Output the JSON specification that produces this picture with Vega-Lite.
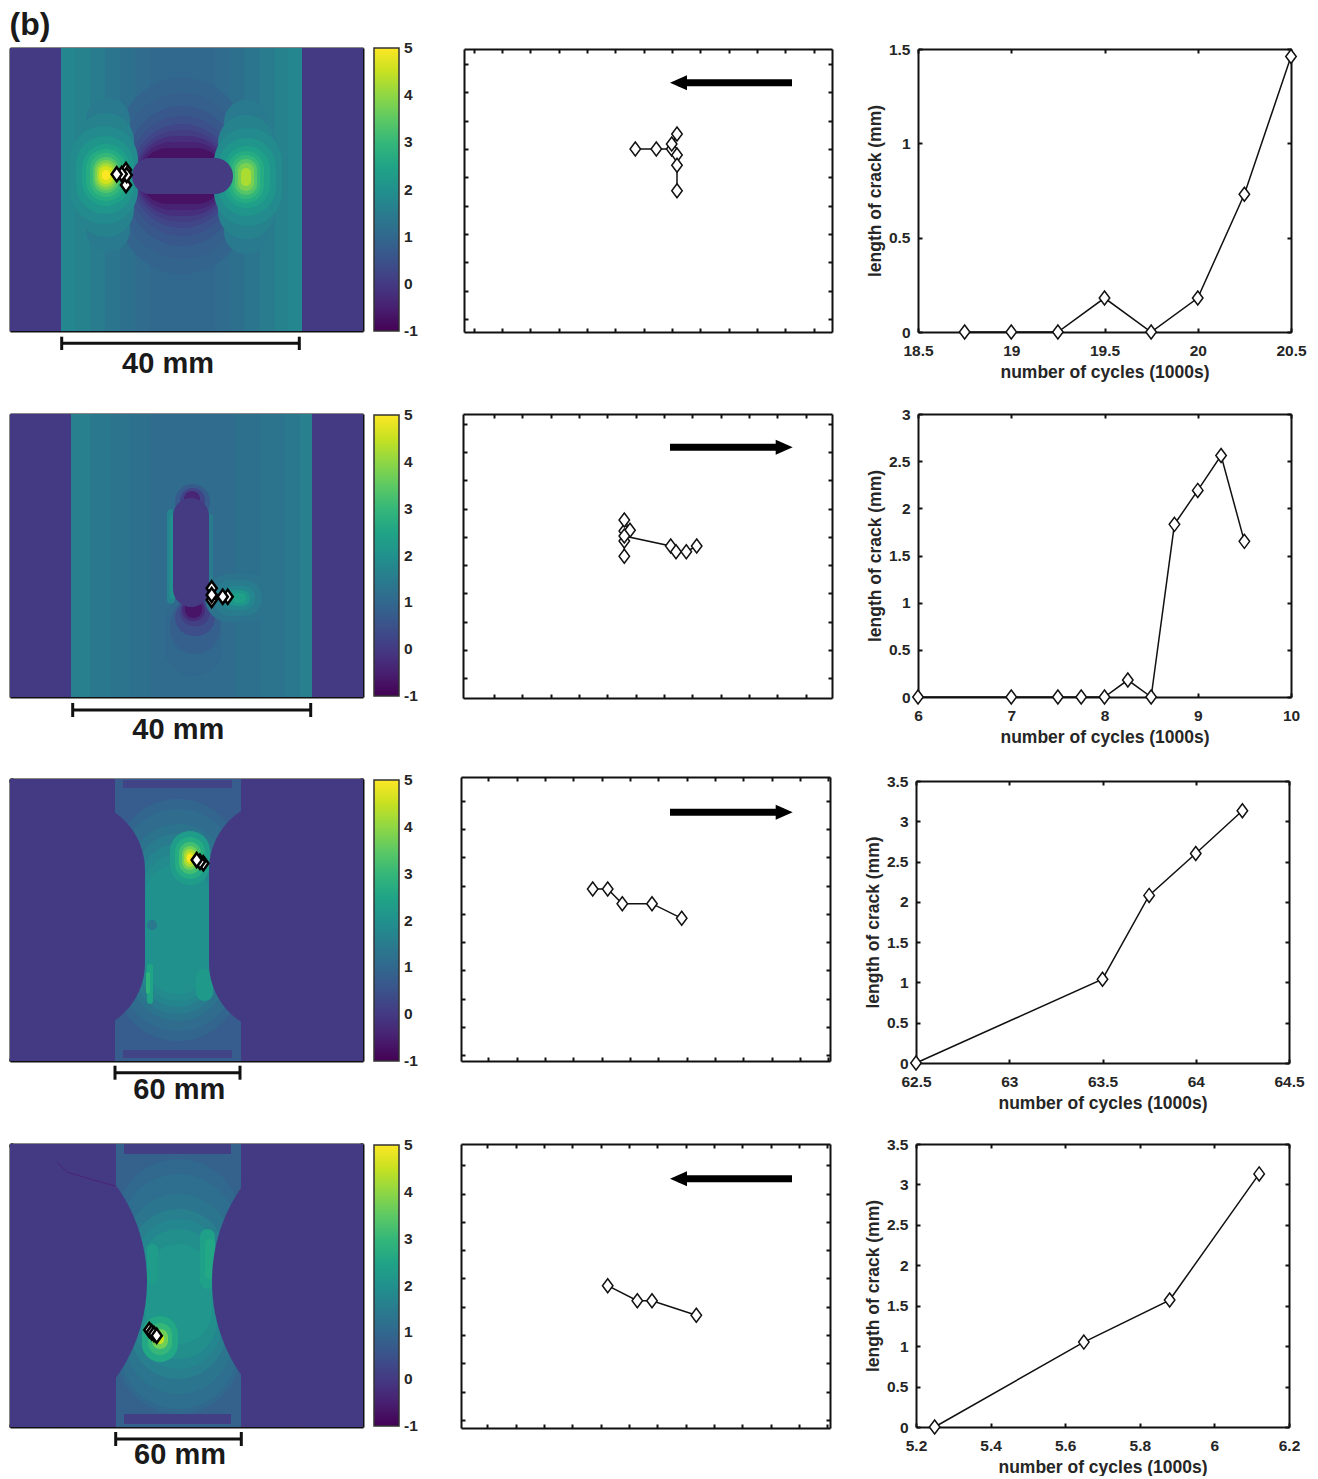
{"$schema":"https://vega.github.io/schema/vega-lite/v6.json","background":"white","padding":{"left":9,"top":9,"right":4,"bottom":0},"columns":5,"align":"none","bounds":"flush","spacing":{"row":79,"column":0},"resolve":{"scale":{"color":"independent"},"legend":{"color":"independent"}},
"config":{"view":{"stroke":null},"axis":{"domainColor":"#111","domainWidth":2,"tickColor":"#111","tickWidth":2,"tickSize":-4,"grid":false,"labels":false,"labelFlush":false,"labelOverlap":false,"zindex":1,"labelFont":"Liberation Sans","labelFontWeight":"bold","labelFontSize":15.5,"labelColor":"#262626","titleFont":"Liberation Sans","titleFontWeight":"bold","titleFontSize":17.5,"titleColor":"#262626"},"legend":{"labelFont":"Liberation Sans","labelFontWeight":"bold","labelFontSize":15.5,"labelColor":"#262626","labelBaseline":"middle","labelOverlap":false}},
"datasets":{
"h1a":[{"x":0,"x2":353,"y":0,"y2":283,"v":0},{"x":51,"x2":65,"y":0,"y2":283,"v":1.75},{"x":65,"x2":80,"y":0,"y2":283,"v":1.65},{"x":80,"x2":95,"y":0,"y2":283,"v":1.5},{"x":95,"x2":110,"y":0,"y2":283,"v":1.35},{"x":110,"x2":125,"y":0,"y2":283,"v":1.2},{"x":125,"x2":140,"y":0,"y2":283,"v":1.1},{"x":140,"x2":205,"y":0,"y2":283,"v":1.0},{"x":205,"x2":220,"y":0,"y2":283,"v":1.1},{"x":220,"x2":235,"y":0,"y2":283,"v":1.2},{"x":235,"x2":250,"y":0,"y2":283,"v":1.35},{"x":250,"x2":265,"y":0,"y2":283,"v":1.5},{"x":265,"x2":278,"y":0,"y2":283,"v":1.65},{"x":278,"x2":292,"y":0,"y2":283,"v":1.75}],
"h1b":[{"x":108,"x2":236,"y":30,"y2":226,"v":0.9},{"x":114,"x2":230,"y":45,"y2":211,"v":0.8},{"x":118,"x2":226,"y":58,"y2":198,"v":0.65},{"x":120,"x2":224,"y":68,"y2":188,"v":0.45},{"x":122,"x2":222,"y":76,"y2":180,"v":0.25},{"x":124,"x2":220,"y":82,"y2":174,"v":0.05},{"x":126,"x2":218,"y":88,"y2":168,"v":-0.2},{"x":128,"x2":216,"y":94,"y2":162,"v":-0.45},{"x":130,"x2":214,"y":100,"y2":156,"v":-0.75},{"x":76,"x2":120,"y":50,"y2":204,"v":1.45},{"x":68,"x2":124,"y":65,"y2":189,"v":1.65},{"x":60,"x2":128,"y":78,"y2":176,"v":1.85},{"x":66,"x2":124,"y":88,"y2":166,"v":2.1},{"x":72,"x2":120,"y":96,"y2":158,"v":2.4},{"x":76,"x2":116,"y":101,"y2":153,"v":2.7},{"x":80,"x2":112,"y":105,"y2":149,"v":3.0},{"x":83,"x2":109,"y":109,"y2":145,"v":3.4},{"x":85,"x2":107,"y":112,"y2":142,"v":3.8},{"x":87,"x2":105,"y":115,"y2":139,"v":4.2},{"x":89,"x2":103,"y":118,"y2":136,"v":4.6},{"x":92,"x2":100,"y":122,"y2":132,"v":5},{"x":214,"x2":258,"y":52,"y2":206,"v":1.45},{"x":208,"x2":264,"y":67,"y2":191,"v":1.65},{"x":204,"x2":272,"y":80,"y2":178,"v":1.85},{"x":208,"x2":266,"y":90,"y2":168,"v":2.1},{"x":214,"x2":260,"y":98,"y2":160,"v":2.4},{"x":218,"x2":254,"y":103,"y2":155,"v":2.7},{"x":222,"x2":250,"y":107,"y2":151,"v":3.0},{"x":225,"x2":247,"y":111,"y2":147,"v":3.4},{"x":228,"x2":244,"y":115,"y2":143,"v":3.8},{"x":231,"x2":241,"y":120,"y2":138,"v":4.25}],
"h1c":[{"x":122,"x2":223,"y":110,"y2":146,"v":0.02}],
"h1m":[{"x":116,"y":137},{"x":116,"y":122},{"x":116.7,"y":127},{"x":111.7,"y":126},{"x":106.7,"y":126.3}],
"h1s":[{"x":51.7,"x2":289.3,"y":295.3,"y2":295.3},{"x":51.7,"x2":51.7,"y":288.7,"y2":302},{"x":289.3,"x2":289.3,"y":288.7,"y2":302}],
"h1t":[{"x":158,"y":316,"t":"40 mm"}],
"h1u":[{"x":20,"y":-23,"t":"(b)"}],
"h2a":[{"x":0,"x2":353,"y":0,"y2":283,"v":0},{"x":61,"x2":80,"y":0,"y2":283,"v":1.55},{"x":80,"x2":100,"y":0,"y2":283,"v":1.4},{"x":100,"x2":120,"y":0,"y2":283,"v":1.3},{"x":120,"x2":140,"y":0,"y2":283,"v":1.2},{"x":140,"x2":225,"y":0,"y2":283,"v":1.1},{"x":225,"x2":250,"y":0,"y2":283,"v":1.2},{"x":250,"x2":275,"y":0,"y2":283,"v":1.3},{"x":275,"x2":290,"y":0,"y2":283,"v":1.4},{"x":290,"x2":302,"y":0,"y2":283,"v":1.55}],
"h2b":[{"x":155,"x2":212,"y":180,"y2":262,"v":1.0},{"x":160,"x2":210,"y":185,"y2":240,"v":0.8},{"x":165,"x2":205,"y":185,"y2":222,"v":0.4},{"x":170,"x2":200,"y":185,"y2":212,"v":0.1},{"x":172,"x2":195,"y":185,"y2":207,"v":-0.3},{"x":175,"x2":192,"y":185,"y2":204,"v":-0.7},{"x":165,"x2":200,"y":70,"y2":105,"v":0.7},{"x":170,"x2":195,"y":74,"y2":100,"v":0.2},{"x":174,"x2":190,"y":77,"y2":95,"v":-0.4},{"x":157,"x2":165,"y":95,"y2":190,"v":1.7},{"x":160,"x2":165,"y":100,"y2":185,"v":2.0},{"x":197,"x2":203,"y":100,"y2":170,"v":1.5},{"x":195,"x2":262,"y":160,"y2":208,"v":1.3},{"x":203,"x2":252,"y":166,"y2":202,"v":1.5},{"x":210,"x2":245,"y":172,"y2":196,"v":1.75},{"x":217,"x2":240,"y":176,"y2":192,"v":2.1},{"x":222,"x2":236,"y":179,"y2":189,"v":2.4}],
"h2c":[{"x":163,"x2":199,"y":84,"y2":193,"v":0.02}],
"h2m":[{"x":201.7,"y":174.3},{"x":201.7,"y":186},{"x":201.7,"y":181},{"x":217.7,"y":182.7},{"x":212.7,"y":182.7}],
"h2s":[{"x":62.7,"x2":300.7,"y":296,"y2":296},{"x":62.7,"x2":62.7,"y":289,"y2":303},{"x":300.7,"x2":300.7,"y":289,"y2":303}],
"h2t":[{"x":168.3,"y":316,"t":"40 mm"}],
"h3a":[{"x":0,"x2":353,"y":0,"y2":282,"v":0},{"x":105,"x2":231,"y":0,"y2":282,"v":0.75},{"x":113,"x2":222,"y":1,"y2":9,"v":0.2},{"x":113,"x2":222,"y":271,"y2":279,"v":0.2}],
"h3b":[{"x":105,"x2":231,"y":20,"y2":262,"v":0.95},{"x":110,"x2":226,"y":30,"y2":252,"v":1.1},{"x":120,"x2":216,"y":45,"y2":242,"v":1.3},{"x":125,"x2":210,"y":55,"y2":235,"v":1.5},{"x":130,"x2":205,"y":65,"y2":228,"v":1.7},{"x":133,"x2":203,"y":75,"y2":222,"v":1.85},{"x":135,"x2":200,"y":85,"y2":215,"v":2.0},{"x":137,"x2":143,"y":185,"y2":225,"v":2.5},{"x":136,"x2":140,"y":193,"y2":215,"v":2.9},{"x":186,"x2":203,"y":190,"y2":222,"v":2.25},{"x":137,"x2":147,"y":141,"y2":151,"v":1.4},{"x":160,"x2":200,"y":52,"y2":106,"v":2.3},{"x":165,"x2":195,"y":58,"y2":100,"v":2.7},{"x":169,"x2":191,"y":63,"y2":95,"v":3.2},{"x":172,"x2":188,"y":67,"y2":91,"v":3.7},{"x":174,"x2":186,"y":70,"y2":88,"v":4.2},{"x":176,"x2":184,"y":73,"y2":85,"v":4.6},{"x":177,"x2":183,"y":75,"y2":83,"v":5}],
"h3c":[{"x":-100,"x2":135,"y":21,"y2":254,"v":0},{"x":199,"x2":460,"y":21,"y2":254,"v":0}],
"h3m":[{"x":193.3,"y":84.3},{"x":190,"y":82.7},{"x":186.7,"y":81}],
"h3s":[{"x":105,"x2":230,"y":293.7,"y2":293.7},{"x":105,"x2":105,"y":286.7,"y2":300.7},{"x":230,"x2":230,"y":286.7,"y2":300.7}],
"h3t":[{"x":169.3,"y":311,"t":"60 mm"}],
"h4a":[{"x":0,"x2":353,"y":0,"y2":283,"v":0},{"x":106,"x2":231,"y":0,"y2":283,"v":0.85},{"x":114,"x2":221,"y":0,"y2":10,"v":0.1},{"x":114,"x2":221,"y":270,"y2":280,"v":0.1}],
"h4b":[{"x":106,"x2":231,"y":15,"y2":270,"v":1.0},{"x":110,"x2":227,"y":30,"y2":265,"v":1.15},{"x":115,"x2":222,"y":50,"y2":250,"v":1.35},{"x":120,"x2":216,"y":65,"y2":235,"v":1.55},{"x":125,"x2":212,"y":75,"y2":225,"v":1.75},{"x":130,"x2":207,"y":85,"y2":215,"v":1.95},{"x":135,"x2":202,"y":100,"y2":200,"v":2.15},{"x":190,"x2":205,"y":85,"y2":145,"v":2.4},{"x":195,"x2":205,"y":95,"y2":135,"v":2.6},{"x":137,"x2":148,"y":100,"y2":140,"v":2.3},{"x":132,"x2":168,"y":172,"y2":218,"v":2.6},{"x":138,"x2":162,"y":179,"y2":211,"v":3},{"x":142,"x2":158,"y":185,"y2":205,"v":3.7},{"x":146,"x2":154,"y":190,"y2":200,"v":4.5}],
"h4c":[{"x":-193,"x2":137,"y":-27.5,"y2":302.5,"v":0},{"x":202,"x2":532,"y":-27.5,"y2":302.5,"v":0}],
"h4m":[{"x":139.3,"y":186},{"x":141.7,"y":188.3},{"x":144,"y":190},{"x":146.7,"y":191.7}],
"h4s":[{"x":105.7,"x2":231.3,"y":295,"y2":295},{"x":105.7,"x2":105.7,"y":288,"y2":302},{"x":231.3,"x2":231.3,"y":288,"y2":302}],
"h4t":[{"x":170,"y":311,"t":"60 mm"}],
"h4l":[{"i":1,"x":47,"y":18},{"i":2,"x":57,"y":28},{"i":3,"x":80,"y":35},{"i":4,"x":105,"y":42}],
"m1":[{"i":1,"x":171.3,"y":100},{"i":2,"x":192.3,"y":100},{"i":3,"x":207.7,"y":100},{"i":4,"x":213,"y":85},{"i":5,"x":207.7,"y":95},{"i":6,"x":213,"y":106},{"i":7,"x":213,"y":116.3},{"i":8,"x":213,"y":141.7}],
"m2":[{"i":1,"x":161.3,"y":142.3},{"i":2,"x":161.3,"y":127},{"i":3,"x":161.3,"y":117},{"i":4,"x":161.3,"y":106},{"i":5,"x":167,"y":116.3},{"i":6,"x":161.3,"y":122},{"i":7,"x":207.7,"y":132},{"i":8,"x":213,"y":137.7},{"i":9,"x":223.3,"y":137.7},{"i":10,"x":233.7,"y":132}],
"m3":[{"i":1,"x":131.7,"y":112},{"i":2,"x":146.7,"y":112},{"i":3,"x":161.3,"y":126.7},{"i":4,"x":191,"y":126.7},{"i":5,"x":220.7,"y":141.3}],
"m4":[{"i":1,"x":146.7,"y":141.7},{"i":2,"x":176.3,"y":156.7},{"i":3,"x":191,"y":156.7},{"i":4,"x":235.3,"y":171.3}],
"a1":[{"x":214,"x2":328,"y":33.7}],"a1h":[{"x":214.5,"y":33.7}],
"a2":[{"x":207,"x2":321,"y":33.3}],"a2h":[{"x":321.2,"y":33.3}],
"a3":[{"x":209,"x2":323,"y":35.3}],"a3h":[{"x":323.2,"y":35.3}],
"a4":[{"x":217,"x2":331,"y":34.7}],"a4h":[{"x":217.5,"y":34.7}],
"r1":[{"x":18.75,"y":0},{"x":19,"y":0},{"x":19.25,"y":0},{"x":19.5,"y":0.18},{"x":19.75,"y":0},{"x":20,"y":0.18},{"x":20.25,"y":0.73},{"x":20.5,"y":1.46}],
"r2":[{"x":6,"y":0},{"x":7,"y":0},{"x":7.5,"y":0},{"x":7.75,"y":0},{"x":8,"y":0},{"x":8.25,"y":0.18},{"x":8.5,"y":0},{"x":8.75,"y":1.83},{"x":9,"y":2.19},{"x":9.25,"y":2.56},{"x":9.5,"y":1.65}],
"r3":[{"x":62.5,"y":0},{"x":63.5,"y":1.04},{"x":63.75,"y":2.08},{"x":64,"y":2.6},{"x":64.25,"y":3.13}],
"r4":[{"x":5.25,"y":0},{"x":5.65,"y":1.05},{"x":5.88,"y":1.57},{"x":6.12,"y":3.13}]
},
"concat":[
{"width":353,"height":283,"encoding":{"x":{"field":"x","type":"quantitative","scale":{"domain":[0,353]},"axis":null},"y":{"field":"y","type":"quantitative","scale":{"domain":[283,0]},"axis":null}},"resolve":{"axis":{"x":"independent","y":"independent"}},"layer":[
{"data":{"name":"h1a"},"mark":"rect","encoding":{"x":{"field":"x","type":"quantitative","scale":{"domain":[0,353]},"axis":{"title":null,"orient":"bottom","tickSize":-3,"values":[30,60,90,120,150,180,210,240,270,300,330]}},"y":{"field":"y","type":"quantitative","scale":{"domain":[283,0]},"axis":{"title":null,"orient":"left","tickSize":-3,"values":[30,60,90,120,150,180,210,240,270]}},"x2":{"field":"x2"},"y2":{"field":"y2"},"color":{"field":"v","type":"quantitative","scale":{"scheme":"viridis","domain":[-1,5]},"legend":{"orient":"none","legendX":364,"legendY":0,"title":null,"type":"gradient","gradientLength":283,"gradientThickness":25,"tickCount":7,"gradientStrokeColor":"#333","gradientStrokeWidth":1.5,"padding":0,"labelOffset":5,"labelExpr":"'' + datum.value","encode":{"labels":{"update":{"baseline":{"value":"middle"}}}}}}}},
{"data":{"name":"h1b"},"mark":{"type":"rect","cornerRadius":400},"encoding":{"x2":{"field":"x2"},"y2":{"field":"y2"},"color":{"field":"v","type":"quantitative","scale":{"scheme":"viridis","domain":[-1,5]},"legend":null}}},
{"data":{"name":"h1c"},"mark":{"type":"rect","cornerRadius":18,"clip":true},"encoding":{"x2":{"field":"x2"},"y2":{"field":"y2"},"color":{"field":"v","type":"quantitative","scale":{"scheme":"viridis","domain":[-1,5]},"legend":null}}},
{"data":{"name":"h1s"},"mark":{"type":"rule","color":"#111","strokeWidth":3},"encoding":{"x2":{"field":"x2"},"y2":{"field":"y2"}}},
{"data":{"name":"h1t"},"mark":{"type":"text","font":"Liberation Sans","fontWeight":"bold","fontSize":29,"color":"#1a1a1a","baseline":"middle"},"encoding":{"text":{"field":"t"}}},
{"data":{"name":"h1u"},"mark":{"type":"text","font":"Liberation Sans","fontWeight":"bold","fontSize":32,"color":"#1a1a1a","baseline":"middle"},"encoding":{"text":{"field":"t"}}},
{"data":{"name":"h1m"},"mark":{"type":"point","filled":false,"fill":"white","fillOpacity":1,"stroke":"black","strokeWidth":2.5,"opacity":1,"size":200,"shape":"M0,-1L0.72,0L0,1L-0.72,0Z"},"encoding":{"x":{"field":"x","type":"quantitative","scale":{"domain":[0,353]},"axis":{"title":null,"orient":"top","tickSize":-3,"values":[30,60,90,120,150,180,210,240,270,300,330]}},"y":{"field":"y","type":"quantitative","scale":{"domain":[283,0]},"axis":{"title":null,"orient":"right","tickSize":-3,"values":[30,60,90,120,150,180,210,240,270]}}}}
]},
{"width":98,"height":10,"data":{"values":[{}]},"mark":{"type":"point","opacity":0},"encoding":{}},
{"width":371,"height":284,"encoding":{"x":{"field":"x","type":"quantitative","scale":{"domain":[0,368],"range":[3,371]},"axis":null},"y":{"field":"y","type":"quantitative","scale":{"domain":[283,0],"range":[284,1]},"axis":null}},"resolve":{"axis":{"x":"independent","y":"independent"}},"layer":[
{"data":{"name":"a1"},"mark":{"type":"rule","color":"black","strokeWidth":7},"encoding":{"x":{"field":"x","type":"quantitative","scale":{"domain":[0,368],"range":[3,371]},"axis":{"title":null,"orient":"bottom","values":[9.7,38,66.3,94.7,123,151.3,179.7,208,236.3,264.7,293,321.3,349.7]}},"y":{"field":"y","type":"quantitative","scale":{"domain":[283,0],"range":[284,1]},"axis":{"title":null,"orient":"left","offset":-3,"values":[15,43.3,71.7,100,128,156.7,185,213,241.7,270]}},"x2":{"field":"x2"}}},
{"data":{"name":"a1h"},"mark":{"type":"point","filled":true,"color":"black","opacity":1,"size":289,"shape":"M-1,0L1,-0.88L1,0.88Z"}},
{"data":{"name":"m1"},"mark":{"type":"line","color":"#111","strokeWidth":1.5},"encoding":{"order":{"field":"i"}}},
{"data":{"name":"m1"},"mark":{"type":"point","filled":false,"fill":"white","fillOpacity":1,"stroke":"#111","strokeWidth":1.5,"opacity":1,"size":196,"shape":"M0,-1L0.75,0L0,1L-0.75,0Z"},"encoding":{"x":{"field":"x","type":"quantitative","scale":{"domain":[0,368],"range":[3,371]},"axis":{"title":null,"orient":"top","offset":-1,"values":[9.7,38,66.3,94.7,123,151.3,179.7,208,236.3,264.7,293,321.3,349.7]}},"y":{"field":"y","type":"quantitative","scale":{"domain":[283,0],"range":[284,1]},"axis":{"title":null,"orient":"right","values":[15,43.3,71.7,100,128,156.7,185,213,241.7,270]}}}}
]},
{"width":84,"height":10,"data":{"values":[{}]},"mark":{"type":"point","opacity":0},"encoding":{}},
{"width":375,"height":284,"data":{"name":"r1"},"resolve":{"axis":{"x":"independent","y":"independent"}},"layer":[
{"mark":{"type":"line","color":"#111","strokeWidth":1.5},"encoding":{"x":{"field":"x","type":"quantitative","scale":{"domain":[18.5,20.5],"range":[2,375]},"axis":{"title":"number of cycles (1000s)","orient":"bottom","labels":true,"labelPadding":15,"titlePadding":5,"format":"~r","values":[18.5,19,19.5,20,20.5]}},"y":{"field":"y","type":"quantitative","scale":{"domain":[0,1.5],"range":[284,1]},"axis":{"title":"length of crack (mm)","orient":"left","offset":-2,"labels":true,"labelPadding":12,"titlePadding":4,"format":"~r","values":[0,0.5,1,1.5]}}}},
{"mark":{"type":"point","filled":false,"fill":"white","fillOpacity":1,"stroke":"#111","strokeWidth":1.5,"opacity":1,"size":196,"shape":"M0,-1L0.75,0L0,1L-0.75,0Z"},"encoding":{"x":{"field":"x","type":"quantitative","scale":{"domain":[18.5,20.5],"range":[2,375]},"axis":{"title":null,"orient":"top","offset":-1,"values":[18.5,19,19.5,20,20.5]}},"y":{"field":"y","type":"quantitative","scale":{"domain":[0,1.5],"range":[284,1]},"axis":{"title":null,"orient":"right","values":[0,0.5,1,1.5]}}}}
]},

{"width":353,"height":286,"encoding":{"x":{"field":"x","type":"quantitative","scale":{"domain":[0,353]},"axis":null},"y":{"field":"y","type":"quantitative","scale":{"domain":[283,0],"range":[286,3]},"axis":null}},"resolve":{"axis":{"x":"independent","y":"independent"}},"layer":[
{"data":{"name":"h2a"},"mark":"rect","encoding":{"x":{"field":"x","type":"quantitative","scale":{"domain":[0,353]},"axis":{"title":null,"orient":"bottom","tickSize":-3,"values":[30,60,90,120,150,180,210,240,270,300,330]}},"y":{"field":"y","type":"quantitative","scale":{"domain":[283,0],"range":[286,3]},"axis":{"title":null,"orient":"left","tickSize":-3,"values":[30,60,90,120,150,180,210,240,270]}},"x2":{"field":"x2"},"y2":{"field":"y2"},"color":{"field":"v","type":"quantitative","scale":{"scheme":"viridis","domain":[-1,5]},"legend":{"orient":"none","legendX":364,"legendY":4,"title":null,"type":"gradient","gradientLength":281,"gradientThickness":25,"tickCount":7,"gradientStrokeColor":"#333","gradientStrokeWidth":1.5,"padding":0,"labelOffset":5,"labelExpr":"'' + datum.value","encode":{"labels":{"update":{"baseline":{"value":"middle"}}}}}}}},
{"data":{"name":"h2b"},"mark":{"type":"rect","cornerRadius":400},"encoding":{"x2":{"field":"x2"},"y2":{"field":"y2"},"color":{"field":"v","type":"quantitative","scale":{"scheme":"viridis","domain":[-1,5]},"legend":null}}},
{"data":{"name":"h2c"},"mark":{"type":"rect","cornerRadius":18,"clip":true},"encoding":{"x2":{"field":"x2"},"y2":{"field":"y2"},"color":{"field":"v","type":"quantitative","scale":{"scheme":"viridis","domain":[-1,5]},"legend":null}}},
{"data":{"name":"h2s"},"mark":{"type":"rule","color":"#111","strokeWidth":3},"encoding":{"x2":{"field":"x2"},"y2":{"field":"y2"}}},
{"data":{"name":"h2t"},"mark":{"type":"text","font":"Liberation Sans","fontWeight":"bold","fontSize":29,"color":"#1a1a1a","baseline":"middle"},"encoding":{"text":{"field":"t"}}},
{"data":{"name":"h2m"},"mark":{"type":"point","filled":false,"fill":"white","fillOpacity":1,"stroke":"black","strokeWidth":2.5,"opacity":1,"size":200,"shape":"M0,-1L0.72,0L0,1L-0.72,0Z"},"encoding":{"x":{"field":"x","type":"quantitative","scale":{"domain":[0,353]},"axis":{"title":null,"orient":"top","offset":-3,"tickSize":-3,"values":[30,60,90,120,150,180,210,240,270,300,330]}},"y":{"field":"y","type":"quantitative","scale":{"domain":[283,0],"range":[286,3]},"axis":{"title":null,"orient":"right","tickSize":-3,"values":[30,60,90,120,150,180,210,240,270]}}}}
]},
{"width":98,"height":10,"data":{"values":[{}]},"mark":{"type":"point","opacity":0},"encoding":{}},
{"width":371,"height":287,"encoding":{"x":{"field":"x","type":"quantitative","scale":{"domain":[0,369],"range":[2,371]},"axis":null},"y":{"field":"y","type":"quantitative","scale":{"domain":[284,0],"range":[287,3]},"axis":null}},"resolve":{"axis":{"x":"independent","y":"independent"}},"layer":[
{"data":{"name":"a2"},"mark":{"type":"rule","color":"black","strokeWidth":7},"encoding":{"x":{"field":"x","type":"quantitative","scale":{"domain":[0,369],"range":[2,371]},"axis":{"title":null,"orient":"bottom","values":[31,59.3,87.7,116,144.3,172.7,201,229.3,257.7,286,314.3,342.7]}},"y":{"field":"y","type":"quantitative","scale":{"domain":[284,0],"range":[287,3]},"axis":{"title":null,"orient":"left","offset":-2,"values":[9.7,38,66.3,94.7,123,151.3,179.3,207.7,236,264.3]}},"x2":{"field":"x2"}}},
{"data":{"name":"a2h"},"mark":{"type":"point","filled":true,"color":"black","opacity":1,"size":289,"shape":"M1,0L-1,-0.88L-1,0.88Z"}},
{"data":{"name":"m2"},"mark":{"type":"line","color":"#111","strokeWidth":1.5},"encoding":{"order":{"field":"i"}}},
{"data":{"name":"m2"},"mark":{"type":"point","filled":false,"fill":"white","fillOpacity":1,"stroke":"#111","strokeWidth":1.5,"opacity":1,"size":196,"shape":"M0,-1L0.75,0L0,1L-0.75,0Z"},"encoding":{"x":{"field":"x","type":"quantitative","scale":{"domain":[0,369],"range":[2,371]},"axis":{"title":null,"orient":"top","offset":-3,"values":[31,59.3,87.7,116,144.3,172.7,201,229.3,257.7,286,314.3,342.7]}},"y":{"field":"y","type":"quantitative","scale":{"domain":[284,0],"range":[287,3]},"axis":{"title":null,"orient":"right","values":[9.7,38,66.3,94.7,123,151.3,179.3,207.7,236,264.3]}}}}
]},
{"width":84,"height":10,"data":{"values":[{}]},"mark":{"type":"point","opacity":0},"encoding":{}},
{"width":375,"height":286,"data":{"name":"r2"},"resolve":{"axis":{"x":"independent","y":"independent"}},"layer":[
{"mark":{"type":"line","color":"#111","strokeWidth":1.5},"encoding":{"x":{"field":"x","type":"quantitative","scale":{"domain":[6,10],"range":[2,375]},"axis":{"title":"number of cycles (1000s)","orient":"bottom","labels":true,"labelPadding":15,"titlePadding":5,"format":"~r","values":[6,7,8,9,10]}},"y":{"field":"y","type":"quantitative","scale":{"domain":[0,3],"range":[286,3]},"axis":{"title":"length of crack (mm)","orient":"left","offset":-2,"labels":true,"labelPadding":12,"titlePadding":4,"format":"~r","values":[0,0.5,1,1.5,2,2.5,3]}}}},
{"mark":{"type":"point","filled":false,"fill":"white","fillOpacity":1,"stroke":"#111","strokeWidth":1.5,"opacity":1,"size":196,"shape":"M0,-1L0.75,0L0,1L-0.75,0Z"},"encoding":{"x":{"field":"x","type":"quantitative","scale":{"domain":[6,10],"range":[2,375]},"axis":{"title":null,"orient":"top","offset":-3,"values":[6,7,8,9,10]}},"y":{"field":"y","type":"quantitative","scale":{"domain":[0,3],"range":[286,3]},"axis":{"title":null,"orient":"right","values":[0,0.5,1,1.5,2,2.5,3]}}}}
]},

{"width":353,"height":284,"encoding":{"x":{"field":"x","type":"quantitative","scale":{"domain":[0,353]},"axis":null},"y":{"field":"y","type":"quantitative","scale":{"domain":[282,0],"range":[284,2]},"axis":null}},"resolve":{"axis":{"x":"independent","y":"independent"}},"layer":[
{"data":{"name":"h3a"},"mark":"rect","encoding":{"x":{"field":"x","type":"quantitative","scale":{"domain":[0,353]},"axis":{"title":null,"orient":"bottom","tickSize":-3,"tickCount":35}},"y":{"field":"y","type":"quantitative","scale":{"domain":[282,0],"range":[284,2]},"axis":{"title":null,"orient":"left","tickSize":-3,"tickCount":28}},"x2":{"field":"x2"},"y2":{"field":"y2"},"color":{"field":"v","type":"quantitative","scale":{"scheme":"viridis","domain":[-1,5]},"legend":{"orient":"none","legendX":364,"legendY":3,"title":null,"type":"gradient","gradientLength":281,"gradientThickness":25,"tickCount":7,"gradientStrokeColor":"#333","gradientStrokeWidth":1.5,"padding":0,"labelOffset":5,"labelExpr":"'' + datum.value","encode":{"labels":{"update":{"baseline":{"value":"middle"}}}}}}}},
{"data":{"name":"h3b"},"mark":{"type":"rect","cornerRadius":400},"encoding":{"x2":{"field":"x2"},"y2":{"field":"y2"},"color":{"field":"v","type":"quantitative","scale":{"scheme":"viridis","domain":[-1,5]},"legend":null}}},
{"data":{"name":"h3c"},"mark":{"type":"rect","cornerRadius":70,"clip":true},"encoding":{"x2":{"field":"x2"},"y2":{"field":"y2"},"color":{"field":"v","type":"quantitative","scale":{"scheme":"viridis","domain":[-1,5]},"legend":null}}},
{"data":{"name":"h3s"},"mark":{"type":"rule","color":"#111","strokeWidth":3},"encoding":{"x2":{"field":"x2"},"y2":{"field":"y2"}}},
{"data":{"name":"h3t"},"mark":{"type":"text","font":"Liberation Sans","fontWeight":"bold","fontSize":29,"color":"#1a1a1a","baseline":"middle"},"encoding":{"text":{"field":"t"}}},
{"data":{"name":"h3m"},"mark":{"type":"point","filled":false,"fill":"white","fillOpacity":1,"stroke":"black","strokeWidth":2.5,"opacity":1,"size":200,"shape":"M0,-1L0.72,0L0,1L-0.72,0Z"},"encoding":{"x":{"field":"x","type":"quantitative","scale":{"domain":[0,353]},"axis":{"title":null,"orient":"top","offset":-2,"tickSize":-3,"tickCount":35}},"y":{"field":"y","type":"quantitative","scale":{"domain":[282,0],"range":[284,2]},"axis":{"title":null,"orient":"right","tickSize":-3,"tickCount":28}}}}
]},
{"width":98,"height":288,"data":{"values":[{}]},"mark":{"type":"point","opacity":0},"encoding":{}},
{"width":369,"height":284,"encoding":{"x":{"field":"x","type":"quantitative","scale":{"domain":[0,369]},"axis":null},"y":{"field":"y","type":"quantitative","scale":{"domain":[284,0]},"axis":null}},"resolve":{"axis":{"x":"independent","y":"independent"}},"layer":[
{"data":{"name":"a3"},"mark":{"type":"rule","color":"black","strokeWidth":7},"encoding":{"x":{"field":"x","type":"quantitative","scale":{"domain":[0,369]},"axis":{"title":null,"orient":"bottom","values":[27.3,55.7,84,112.3,140.7,169,197.3,225.7,254,282.3,310.7,339,367.3]}},"y":{"field":"y","type":"quantitative","scale":{"domain":[284,0]},"axis":{"title":null,"orient":"left","values":[23.7,52,80.3,108.7,136.7,165,193.3,221.7,250,278.3]}},"x2":{"field":"x2"}}},
{"data":{"name":"a3h"},"mark":{"type":"point","filled":true,"color":"black","opacity":1,"size":289,"shape":"M1,0L-1,-0.88L-1,0.88Z"}},
{"data":{"name":"m3"},"mark":{"type":"line","color":"#111","strokeWidth":1.5},"encoding":{"order":{"field":"i"}}},
{"data":{"name":"m3"},"mark":{"type":"point","filled":false,"fill":"white","fillOpacity":1,"stroke":"#111","strokeWidth":1.5,"opacity":1,"size":196,"shape":"M0,-1L0.75,0L0,1L-0.75,0Z"},"encoding":{"x":{"field":"x","type":"quantitative","scale":{"domain":[0,369]},"axis":{"title":null,"orient":"top","values":[27.3,55.7,84,112.3,140.7,169,197.3,225.7,254,282.3,310.7,339,367.3]}},"y":{"field":"y","type":"quantitative","scale":{"domain":[284,0]},"axis":{"title":null,"orient":"right","values":[23.7,52,80.3,108.7,136.7,165,193.3,221.7,250,278.3]}}}}
]},
{"width":84,"height":10,"data":{"values":[{}]},"mark":{"type":"point","opacity":0},"encoding":{}},
{"width":373,"height":286,"data":{"name":"r3"},"resolve":{"axis":{"x":"independent","y":"independent"}},"layer":[
{"mark":{"type":"line","color":"#111","strokeWidth":1.5},"encoding":{"x":{"field":"x","type":"quantitative","scale":{"domain":[62.5,64.5]},"axis":{"title":"number of cycles (1000s)","orient":"bottom","labels":true,"labelPadding":15,"titlePadding":5,"format":"~r","values":[62.5,63,63.5,64,64.5]}},"y":{"field":"y","type":"quantitative","scale":{"domain":[0,3.5],"range":[286,4]},"axis":{"title":"length of crack (mm)","orient":"left","labels":true,"labelPadding":12,"titlePadding":4,"format":"~r","values":[0,0.5,1,1.5,2,2.5,3,3.5]}}}},
{"mark":{"type":"point","filled":false,"fill":"white","fillOpacity":1,"stroke":"#111","strokeWidth":1.5,"opacity":1,"size":196,"shape":"M0,-1L0.75,0L0,1L-0.75,0Z"},"encoding":{"x":{"field":"x","type":"quantitative","scale":{"domain":[62.5,64.5]},"axis":{"title":null,"orient":"top","offset":-4,"values":[62.5,63,63.5,64,64.5]}},"y":{"field":"y","type":"quantitative","scale":{"domain":[0,3.5],"range":[286,4]},"axis":{"title":null,"orient":"right","values":[0,0.5,1,1.5,2,2.5,3,3.5]}}}}
]},

{"width":353,"height":283,"encoding":{"x":{"field":"x","type":"quantitative","scale":{"domain":[0,353]},"axis":null},"y":{"field":"y","type":"quantitative","scale":{"domain":[283,0]},"axis":null}},"resolve":{"axis":{"x":"independent","y":"independent"}},"layer":[
{"data":{"name":"h4a"},"mark":"rect","encoding":{"x":{"field":"x","type":"quantitative","scale":{"domain":[0,353]},"axis":{"title":null,"orient":"bottom","tickSize":-3,"tickCount":35}},"y":{"field":"y","type":"quantitative","scale":{"domain":[283,0]},"axis":{"title":null,"orient":"left","tickSize":-3,"tickCount":28}},"x2":{"field":"x2"},"y2":{"field":"y2"},"color":{"field":"v","type":"quantitative","scale":{"scheme":"viridis","domain":[-1,5]},"legend":{"orient":"none","legendX":364,"legendY":1,"title":null,"type":"gradient","gradientLength":281,"gradientThickness":25,"tickCount":7,"gradientStrokeColor":"#333","gradientStrokeWidth":1.5,"padding":0,"labelOffset":5,"labelExpr":"'' + datum.value","encode":{"labels":{"update":{"baseline":{"value":"middle"}}}}}}}},
{"data":{"name":"h4b"},"mark":{"type":"rect","cornerRadius":400},"encoding":{"x2":{"field":"x2"},"y2":{"field":"y2"},"color":{"field":"v","type":"quantitative","scale":{"scheme":"viridis","domain":[-1,5]},"legend":null}}},
{"data":{"name":"h4c"},"mark":{"type":"rect","cornerRadius":165,"clip":true},"encoding":{"x2":{"field":"x2"},"y2":{"field":"y2"},"color":{"field":"v","type":"quantitative","scale":{"scheme":"viridis","domain":[-1,5]},"legend":null}}},
{"data":{"name":"h4l"},"mark":{"type":"line","strokeWidth":1,"color":"#4a2377"},"encoding":{"order":{"field":"i"}}},
{"data":{"name":"h4s"},"mark":{"type":"rule","color":"#111","strokeWidth":3},"encoding":{"x2":{"field":"x2"},"y2":{"field":"y2"}}},
{"data":{"name":"h4t"},"mark":{"type":"text","font":"Liberation Sans","fontWeight":"bold","fontSize":29,"color":"#1a1a1a","baseline":"middle"},"encoding":{"text":{"field":"t"}}},
{"data":{"name":"h4m"},"mark":{"type":"point","filled":false,"fill":"white","fillOpacity":1,"stroke":"black","strokeWidth":2.5,"opacity":1,"size":200,"shape":"M0,-1L0.72,0L0,1L-0.72,0Z"},"encoding":{"x":{"field":"x","type":"quantitative","scale":{"domain":[0,353]},"axis":{"title":null,"orient":"top","tickSize":-3,"tickCount":35}},"y":{"field":"y","type":"quantitative","scale":{"domain":[283,0]},"axis":{"title":null,"orient":"right","tickSize":-3,"tickCount":28}}}}
]},
{"width":98,"height":10,"data":{"values":[{}]},"mark":{"type":"point","opacity":0},"encoding":{}},
{"width":369,"height":284,"encoding":{"x":{"field":"x","type":"quantitative","scale":{"domain":[0,369]},"axis":null},"y":{"field":"y","type":"quantitative","scale":{"domain":[284,0]},"axis":null}},"resolve":{"axis":{"x":"independent","y":"independent"}},"layer":[
{"data":{"name":"a4"},"mark":{"type":"rule","color":"black","strokeWidth":7},"encoding":{"x":{"field":"x","type":"quantitative","scale":{"domain":[0,369]},"axis":{"title":null,"orient":"bottom","values":[26.3,54.7,83,111.3,139.7,168,196.3,224.7,253,281.3,309.7,338,366.3]}},"y":{"field":"y","type":"quantitative","scale":{"domain":[284,0]},"axis":{"title":null,"orient":"left","values":[21.3,49.7,78,106,134.3,162.7,191,219.3,247.7,276]}},"x2":{"field":"x2"}}},
{"data":{"name":"a4h"},"mark":{"type":"point","filled":true,"color":"black","opacity":1,"size":289,"shape":"M-1,0L1,-0.88L1,0.88Z"}},
{"data":{"name":"m4"},"mark":{"type":"line","color":"#111","strokeWidth":1.5},"encoding":{"order":{"field":"i"}}},
{"data":{"name":"m4"},"mark":{"type":"point","filled":false,"fill":"white","fillOpacity":1,"stroke":"#111","strokeWidth":1.5,"opacity":1,"size":196,"shape":"M0,-1L0.75,0L0,1L-0.75,0Z"},"encoding":{"x":{"field":"x","type":"quantitative","scale":{"domain":[0,369]},"axis":{"title":null,"orient":"top","values":[26.3,54.7,83,111.3,139.7,168,196.3,224.7,253,281.3,309.7,338,366.3]}},"y":{"field":"y","type":"quantitative","scale":{"domain":[284,0]},"axis":{"title":null,"orient":"right","values":[21.3,49.7,78,106,134.3,162.7,191,219.3,247.7,276]}}}}
]},
{"width":84,"height":10,"data":{"values":[{}]},"mark":{"type":"point","opacity":0},"encoding":{}},
{"width":373,"height":283,"data":{"name":"r4"},"resolve":{"axis":{"x":"independent","y":"independent"}},"layer":[
{"mark":{"type":"line","color":"#111","strokeWidth":1.5},"encoding":{"x":{"field":"x","type":"quantitative","scale":{"domain":[5.2,6.2]},"axis":{"title":"number of cycles (1000s)","orient":"bottom","labels":true,"labelPadding":15,"titlePadding":5,"format":"~r","values":[5.2,5.4,5.6,5.8,6,6.2]}},"y":{"field":"y","type":"quantitative","scale":{"domain":[0,3.5]},"axis":{"title":"length of crack (mm)","orient":"left","labels":true,"labelPadding":12,"titlePadding":4,"format":"~r","values":[0,0.5,1,1.5,2,2.5,3,3.5]}}}},
{"mark":{"type":"point","filled":false,"fill":"white","fillOpacity":1,"stroke":"#111","strokeWidth":1.5,"opacity":1,"size":196,"shape":"M0,-1L0.75,0L0,1L-0.75,0Z"},"encoding":{"x":{"field":"x","type":"quantitative","scale":{"domain":[5.2,6.2]},"axis":{"title":null,"orient":"top","values":[5.2,5.4,5.6,5.8,6,6.2]}},"y":{"field":"y","type":"quantitative","scale":{"domain":[0,3.5]},"axis":{"title":null,"orient":"right","values":[0,0.5,1,1.5,2,2.5,3,3.5]}}}}
]}
]}
